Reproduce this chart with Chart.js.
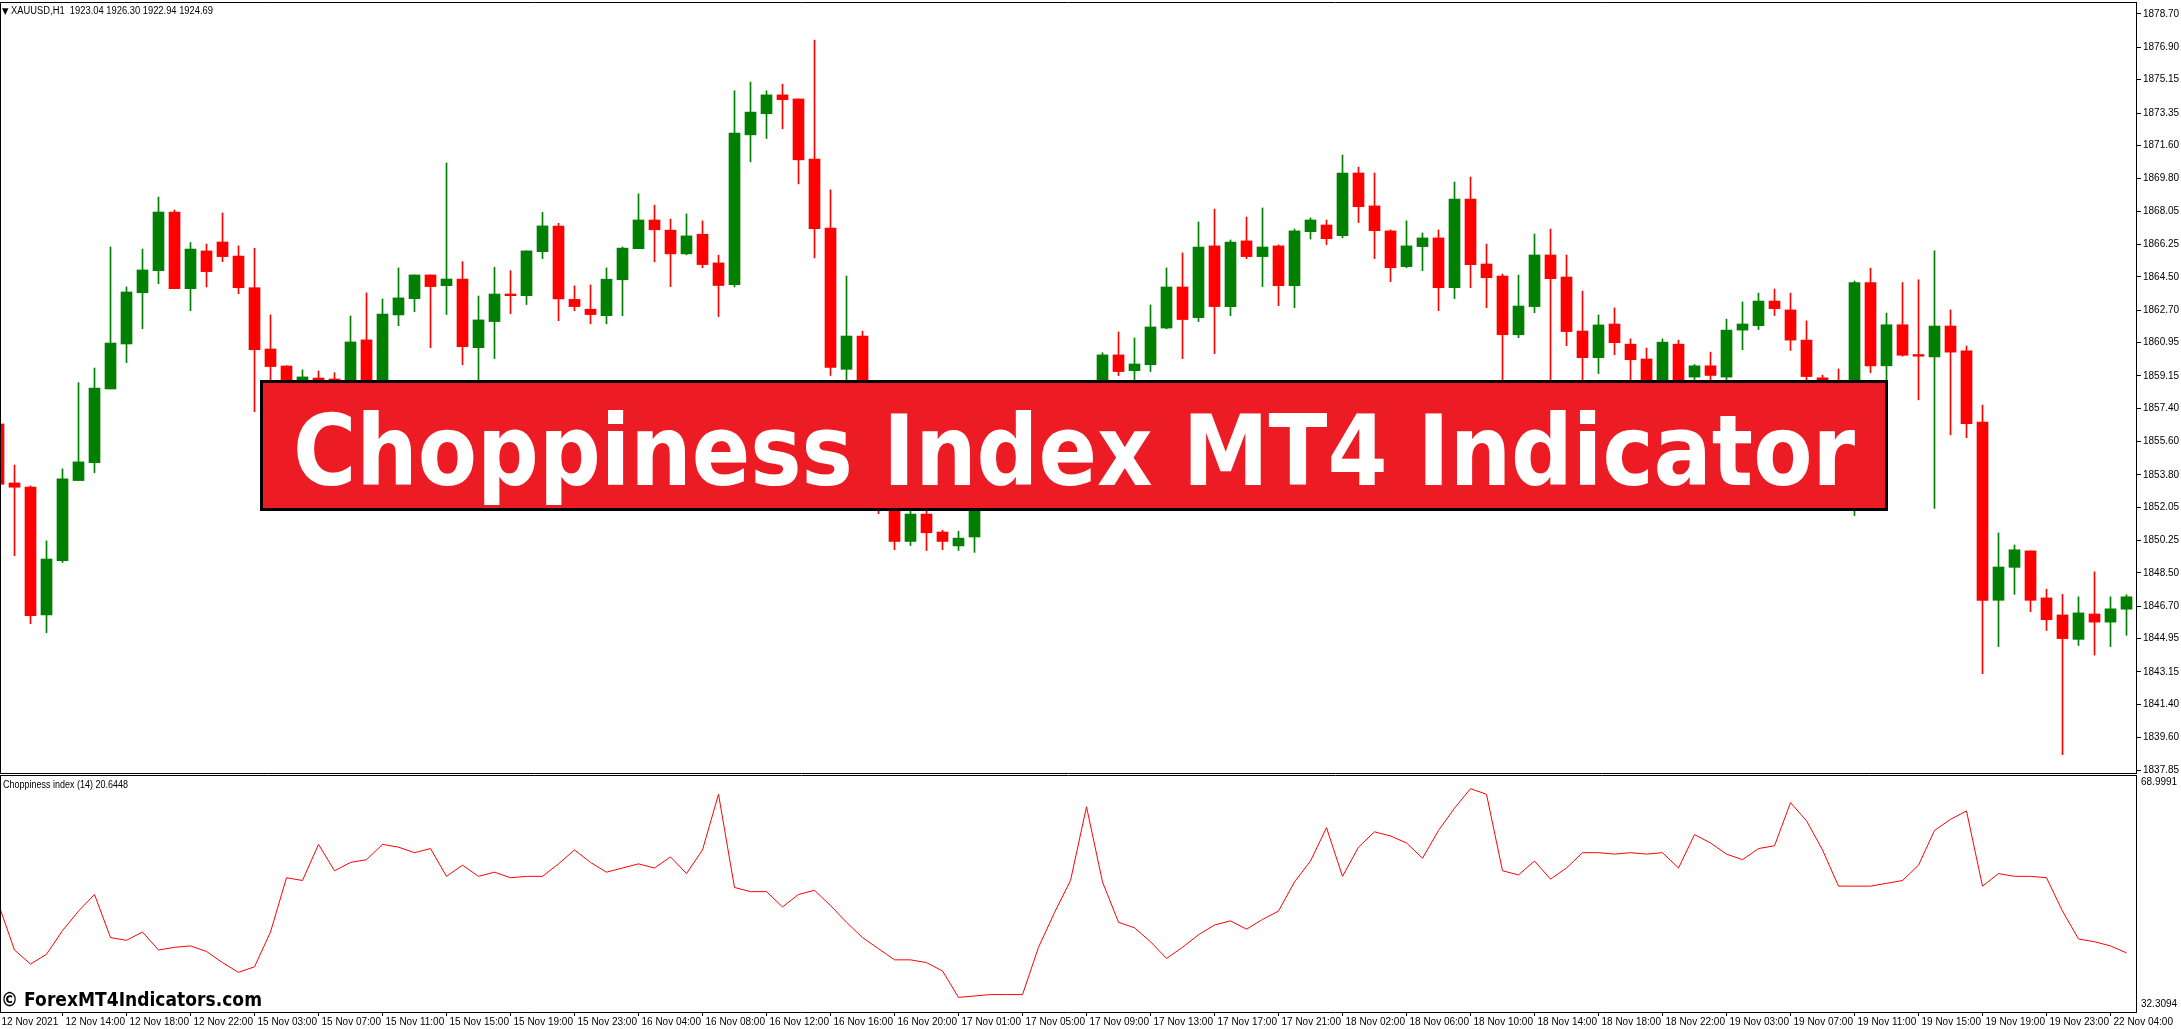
<!DOCTYPE html>
<html lang="en">
<head>
<meta charset="UTF-8">
<title>Choppiness Index MT4 Indicator</title>
<script src="https://cdn.jsdelivr.net/npm/chart.js"></script>
<style>
    body {
        margin: 0;
        padding: 0;
        background: #fff;
        width: 2181px;
        height: 1029px;
        overflow: hidden;
        position: relative;
        font-family: 'Liberation Sans', Arial, sans-serif;
    }
    canvas { position: absolute; left: 0; }
    #price-chart { top: 0; }
    #chop-chart { top: 774px; }
    .txt { position: absolute; white-space: pre; color: #000; transform-origin: 0 50%; z-index: 2; }
    #header { left: 2px; top: 4px; font-size: 10px; line-height: 14px; }
    #header .tri { font: 9px 'DejaVu Sans', sans-serif; }
    #chop-label { left: 3px; top: 778px; font-size: 10px; line-height: 14px; }
    #watermark { left: 1px; top: 987px; font: bold 20px 'DejaVu Sans', sans-serif; line-height: 24px; }
    #banner {
        position: absolute; left: 260px; top: 380px; width: 1628px; height: 131px;
        box-sizing: border-box; background: #ed1c24; border: 3px solid #000; z-index: 3;
    }
    #banner-text {
        position: absolute; left: 50%; top: 19px;
        color: #fff; white-space: pre;
        font: bold 98px 'DejaVu Sans', sans-serif; line-height: 98px;
        transform-origin: 50% 50%; transform: translateX(-50%);
    }
</style>
</head>
<body>
    <canvas id="price-chart" width="2181" height="776"></canvas>
    <canvas id="chop-chart" width="2181" height="255"></canvas>

    <div class="txt" id="header"><span class="tri">▼</span> XAUUSD,H1  1923.04 1926.30 1922.94 1924.69</div>
    <div class="txt" id="chop-label">Choppiness index (14) 20.6448</div>
    <div class="txt" id="watermark">© ForexMT4Indicators.com</div>
    <div id="banner"><span id="banner-text">Choppiness Index MT4 Indicator</span></div>

<script>
    // XAUUSD H1 candles, 12 Nov 2021 10:00 .. 22 Nov 05:00
    const opens = [1856.55, 1853.36, 1853.14, 1846.23, 1849.16, 1853.49, 1854.46, 1858.44, 1860.87, 1863.64,
        1864.83, 1868.00, 1863.86, 1865.90, 1866.38, 1865.62, 1863.91, 1860.60, 1859.68, 1858.30,
        1859.03, 1858.98, 1858.50, 1861.09, 1858.60, 1862.44, 1863.32, 1864.60, 1864.02, 1864.38,
        1860.67, 1862.08, 1863.57, 1863.48, 1865.86, 1867.24, 1863.28, 1862.75, 1862.40, 1864.34,
        1866.02, 1867.57, 1867.02, 1865.74, 1866.80, 1865.25, 1864.08, 1872.17, 1873.31, 1874.33,
        1874.11, 1870.86, 1867.13, 1859.50, 1861.30, 1853.00, 1852.60, 1850.20, 1851.68, 1850.71,
        1849.96, 1850.44, 1852.60, 1853.80, 1853.20, 1855.00, 1854.40, 1856.30, 1855.80, 1857.40,
        1860.28, 1859.43, 1859.75, 1861.73, 1863.95, 1862.29, 1866.17, 1862.89, 1866.44, 1865.59,
        1866.17, 1864.02, 1866.94, 1867.30, 1866.72, 1870.11, 1868.33, 1866.98, 1865.05, 1866.13,
        1866.60, 1863.91, 1868.70, 1865.19, 1864.54, 1861.37, 1862.89, 1865.68, 1864.49, 1861.57,
        1860.13, 1861.95, 1860.86, 1860.06, 1858.70, 1860.86, 1859.08, 1859.69, 1859.08, 1861.62,
        1861.86, 1863.19, 1862.71, 1861.08, 1859.04, 1858.40, 1857.50, 1864.19, 1859.69, 1861.91,
        1860.30, 1860.17, 1861.84, 1860.50, 1856.65, 1847.02, 1848.80, 1849.69, 1847.15, 1846.23,
        1844.91, 1846.28, 1845.84, 1846.54];
    const highs = [1856.90, 1854.33, 1853.20, 1850.23, 1854.12, 1858.78, 1859.57, 1866.11, 1863.95, 1866.00,
        1868.81, 1868.11, 1866.35, 1866.27, 1867.95, 1866.17, 1866.04, 1862.44, 1859.70, 1859.47,
        1859.41, 1859.32, 1862.38, 1863.63, 1863.30, 1864.98, 1864.60, 1864.60, 1870.65, 1865.32,
        1863.46, 1865.01, 1864.83, 1865.90, 1867.98, 1867.39, 1864.01, 1864.06, 1864.98, 1866.11,
        1868.98, 1868.37, 1867.62, 1867.90, 1867.52, 1865.67, 1874.55, 1875.02, 1874.55, 1874.91,
        1874.11, 1877.29, 1869.20, 1864.54, 1861.56, 1853.80, 1853.00, 1852.00, 1852.10, 1850.80,
        1850.75, 1852.90, 1854.30, 1854.60, 1855.60, 1855.90, 1856.90, 1857.60, 1858.20, 1860.40,
        1861.52, 1861.19, 1862.98, 1864.98, 1865.79, 1867.46, 1868.16, 1866.49, 1867.73, 1868.22,
        1866.22, 1867.08, 1867.68, 1867.57, 1871.08, 1870.43, 1870.11, 1867.03, 1867.52, 1866.87,
        1867.03, 1869.62, 1869.89, 1866.27, 1864.65, 1864.59, 1866.81, 1867.08, 1865.68, 1863.73,
        1862.44, 1862.82, 1861.15, 1860.65, 1861.15, 1861.08, 1859.76, 1860.43, 1862.21, 1863.14,
        1863.62, 1863.84, 1863.62, 1862.12, 1859.19, 1859.52, 1864.27, 1864.97, 1862.54, 1864.19,
        1864.34, 1865.90, 1862.71, 1860.76, 1857.57, 1850.66, 1850.01, 1849.69, 1847.62, 1847.34,
        1847.21, 1848.56, 1847.21, 1847.32];
    const lows = [1853.00, 1849.43, 1845.76, 1845.27, 1849.06, 1853.49, 1853.92, 1858.44, 1859.86, 1861.70,
        1864.13, 1863.86, 1862.67, 1863.95, 1865.32, 1863.59, 1857.21, 1858.70, 1857.60, 1857.90,
        1858.00, 1857.80, 1858.20, 1857.90, 1858.30, 1861.86, 1862.62, 1860.67, 1862.46, 1859.75,
        1858.30, 1860.08, 1862.51, 1863.00, 1865.48, 1862.13, 1862.67, 1861.96, 1861.96, 1862.40,
        1866.02, 1865.31, 1863.97, 1865.69, 1864.99, 1862.35, 1863.95, 1870.71, 1871.97, 1872.50,
        1869.52, 1865.52, 1859.17, 1858.90, 1852.30, 1851.70, 1849.76, 1849.98, 1849.71, 1849.76,
        1849.71, 1849.61, 1852.20, 1852.80, 1852.90, 1853.90, 1854.00, 1855.20, 1855.40, 1857.00,
        1859.16, 1858.80, 1859.38, 1861.68, 1860.08, 1862.08, 1860.35, 1862.40, 1865.48, 1863.97,
        1862.94, 1862.83, 1866.54, 1866.24, 1866.61, 1867.43, 1865.48, 1864.24, 1864.99, 1864.83,
        1862.67, 1863.32, 1863.91, 1862.83, 1857.60, 1861.21, 1862.56, 1858.00, 1860.78, 1858.40,
        1859.27, 1860.29, 1858.50, 1858.20, 1858.40, 1858.30, 1858.80, 1858.70, 1858.80, 1860.56,
        1861.65, 1862.41, 1860.52, 1858.60, 1857.90, 1856.80, 1851.60, 1859.32, 1858.30, 1860.21,
        1857.85, 1851.99, 1855.96, 1855.81, 1843.06, 1844.52, 1847.34, 1846.41, 1845.39, 1838.68,
        1844.58, 1844.06, 1844.52, 1845.13];
    const closes = [1853.29, 1853.13, 1846.19, 1849.25, 1853.58, 1854.50, 1858.49, 1860.92, 1863.68, 1864.87,
        1868.00, 1863.86, 1866.00, 1864.78, 1865.59, 1863.91, 1860.56, 1859.65, 1858.20, 1859.09,
        1858.40, 1858.50, 1860.98, 1858.60, 1862.49, 1863.36, 1864.60, 1863.97, 1864.38, 1860.73,
        1862.17, 1863.57, 1863.48, 1865.90, 1867.25, 1863.31, 1862.89, 1862.46, 1864.37, 1866.05,
        1867.57, 1867.04, 1865.74, 1866.71, 1865.16, 1864.03, 1872.26, 1873.40, 1874.33, 1874.07,
        1870.82, 1867.10, 1859.61, 1861.30, 1853.00, 1852.60, 1850.20, 1851.68, 1850.67, 1850.20,
        1850.38, 1852.60, 1853.80, 1853.20, 1855.00, 1854.40, 1856.30, 1855.80, 1857.40, 1860.28,
        1859.38, 1859.79, 1861.79, 1863.95, 1862.19, 1866.11, 1862.89, 1866.38, 1865.59, 1866.11,
        1864.02, 1866.98, 1867.57, 1866.56, 1870.11, 1868.29, 1866.99, 1864.99, 1866.17, 1866.60,
        1863.91, 1868.70, 1865.16, 1864.45, 1861.37, 1862.92, 1865.68, 1864.40, 1861.54, 1860.13,
        1861.90, 1860.94, 1860.02, 1858.70, 1860.97, 1858.70, 1859.69, 1859.17, 1861.62, 1861.95,
        1863.19, 1862.78, 1861.08, 1859.11, 1858.40, 1857.50, 1864.19, 1859.69, 1861.91, 1860.26,
        1860.21, 1861.84, 1860.43, 1856.57, 1847.02, 1848.82, 1849.75, 1847.02, 1845.97, 1844.95,
        1846.34, 1845.84, 1846.56, 1847.21];

    // Choppiness index (14), one value per candle
    const chop = [49.14, 41.98, 39.80, 41.32, 45.02, 48.06, 50.66, 43.93, 43.50, 44.80,
        41.98, 42.41, 42.63, 41.76, 40.02, 38.50, 39.37, 44.80, 53.27, 52.84,
        58.48, 54.36, 55.66, 56.09, 58.48, 58.05, 57.18, 57.83, 53.49, 55.23,
        53.49, 54.14, 53.27, 53.49, 53.49, 55.44, 57.61, 55.66, 54.14, 54.79,
        55.44, 54.79, 56.53, 53.92, 57.61, 66.30, 51.75, 51.10, 51.10, 48.71,
        50.66, 51.31, 48.93, 46.32, 43.93, 42.19, 40.45, 40.45, 40.02, 38.72,
        34.59, 34.81, 35.03, 35.03, 35.03, 42.41, 47.84, 52.84, 64.35, 52.62,
        46.32, 45.45, 43.28, 40.67, 42.41, 44.37, 45.89, 46.54, 45.24, 46.76,
        48.06, 52.62, 55.88, 61.09, 53.49, 58.05, 60.44, 59.79, 58.70, 56.31,
        60.65, 64.13, 67.17, 66.30, 54.36, 53.71, 55.88, 53.05, 54.79, 57.18,
        57.18, 56.96, 57.18, 56.96, 57.18, 54.79, 60.00, 58.70, 56.96, 56.09,
        57.83, 58.26, 65.00, 62.17, 57.61, 51.96, 51.96, 51.96, 52.40, 52.84,
        55.23, 60.65, 62.39, 63.69, 51.96, 53.92, 53.49, 53.49, 53.27, 48.06,
        43.71, 43.28, 42.63, 41.54];

    // time labels, one every 4 bars
    const timeLabels = ['12 Nov 2021', '12 Nov 14:00', '12 Nov 18:00', '12 Nov 22:00', '15 Nov 03:00',
        '15 Nov 07:00', '15 Nov 11:00', '15 Nov 15:00', '15 Nov 19:00', '15 Nov 23:00', '16 Nov 04:00',
        '16 Nov 08:00', '16 Nov 12:00', '16 Nov 16:00', '16 Nov 20:00', '17 Nov 01:00', '17 Nov 05:00',
        '17 Nov 09:00', '17 Nov 13:00', '17 Nov 17:00', '17 Nov 21:00', '18 Nov 02:00', '18 Nov 06:00',
        '18 Nov 10:00', '18 Nov 14:00', '18 Nov 18:00', '18 Nov 22:00', '19 Nov 03:00', '19 Nov 07:00',
        '19 Nov 11:00', '19 Nov 15:00', '19 Nov 19:00', '19 Nov 23:00', '22 Nov 04:00'];

    const priceTicks = [1878.70, 1876.90, 1875.15, 1873.35, 1871.60, 1869.80, 1868.05, 1866.25,
        1864.50, 1862.70, 1860.95, 1859.15, 1857.40, 1855.60, 1853.80, 1852.05, 1850.25, 1848.50,
        1846.70, 1844.95, 1843.15, 1841.40, 1839.60, 1837.85];
    const chopLabels = ['68.9991', '32.3094'];

    Chart.defaults.font.family = "'Liberation Sans', Arial, sans-serif";
    Chart.defaults.font.size = 10;
    Chart.defaults.color = '#000';

    const idx = opens.map((_, i) => i);
    const colors = idx.map(i => closes[i] >= opens[i] ? '#008000' : '#ff0000');

    // 16px per bar, plot area 2136px wide
    const xMin = 0.09375;
    const xMax = xMin + 2136 / 16;

    // black frame around the plot area, MT4 style
    const frame = {
        id: 'frame',
        afterDraw(chart) {
            const { ctx, chartArea: a } = chart;
            ctx.save();
            ctx.strokeStyle = '#000';
            ctx.lineWidth = 1;
            ctx.beginPath();
            ctx.moveTo(a.left, a.top + 0.5); ctx.lineTo(a.right + 1, a.top + 0.5);
            ctx.moveTo(a.left, a.bottom + 0.5); ctx.lineTo(a.right + 1, a.bottom + 0.5);
            ctx.moveTo(a.left + 0.5, a.top); ctx.lineTo(a.left + 0.5, a.bottom + 1);
            ctx.moveTo(a.right + 0.5, a.top); ctx.lineTo(a.right + 0.5, a.bottom + 1);
            ctx.stroke();
            ctx.restore();
        }
    };

    const common = {
        responsive: false,
        animation: false,
        devicePixelRatio: 1,
        plugins: { legend: { display: false }, tooltip: { enabled: false } }
    };

    // price chart: wick + body as floating bars
    new Chart(document.getElementById('price-chart'), {
        type: 'bar',
        data: {
            datasets: [
                {
                    label: 'wick',
                    data: idx.map(i => ({ x: i, y: [lows[i], highs[i]] })),
                    backgroundColor: colors,
                    barThickness: 1,
                    grouped: false,
                    order: 2
                },
                {
                    label: 'body',
                    data: idx.map(i => ({ x: i, y: [opens[i], closes[i]] })),
                    backgroundColor: colors,
                    barThickness: 11,
                    minBarLength: 1,
                    grouped: false,
                    order: 1
                }
            ]
        },
        options: {
            ...common,
            layout: { padding: { top: 2, bottom: 3, left: 0, right: 0 } },
            scales: {
                x: { type: 'linear', min: xMin, max: xMax, offset: false, display: false },
                y: {
                    position: 'right',
                    min: 1837.689,
                    max: 1879.348,
                    afterBuildTicks: s => { s.ticks = priceTicks.map(v => ({ value: v })); },
                    afterFit: s => { s.width = 45; s.paddingTop = 0; s.paddingBottom = 0; },
                    grid: { drawOnChartArea: false, drawTicks: true, tickLength: 5, color: '#000' },
                    border: { display: false },
                    ticks: { padding: 2, callback: v => v.toFixed(2) }
                }
            }
        },
        plugins: [frame]
    });

    // choppiness index panel
    new Chart(document.getElementById('chop-chart'), {
        type: 'line',
        data: {
            datasets: [{
                data: idx.map(i => ({ x: i, y: chop[i] })),
                borderColor: '#ff0000',
                borderWidth: 1,
                pointRadius: 0,
                tension: 0
            }]
        },
        options: {
            ...common,
            layout: { padding: { top: 1, bottom: 0, left: 0, right: 0 } },
            scales: {
                x: {
                    type: 'linear',
                    min: xMin,
                    max: xMax,
                    offset: false,
                    afterBuildTicks: s => { s.ticks = timeLabels.map((_, k) => ({ value: k * 4 })); },
                    afterFit: s => { s.height = 17; s.paddingLeft = 0; s.paddingRight = 0; },
                    grid: { drawOnChartArea: false, drawTicks: true, tickLength: 4, color: '#000' },
                    border: { display: false },
                    ticks: {
                        align: 'start', labelOffset: 3, padding: 0,
                        maxRotation: 0, minRotation: 0, autoSkip: false,
                        callback: (v, k) => timeLabels[k]
                    }
                },
                y: {
                    position: 'right',
                    min: 32.3094,
                    max: 69.3114,
                    afterBuildTicks: s => { s.ticks = [{ value: 68.2185 }, { value: 33.5584 }]; },
                    afterFit: s => { s.width = 45; s.paddingTop = 0; s.paddingBottom = 0; },
                    grid: { drawOnChartArea: false, drawTicks: false },
                    border: { display: false },
                    ticks: { padding: 5, callback: (v, k) => chopLabels[k] }
                }
            }
        },
        plugins: [frame]
    });

    // squeeze overlay texts to the widths seen on the screenshot
    function fitWidth(id, target, pre) {
        const el = document.getElementById(id);
        el.style.transform = pre || 'none';
        const w = el.getBoundingClientRect().width;
        if (w > 0) el.style.transform = (pre ? pre + ' ' : '') + 'scaleX(' + (target / w) + ')';
    }
    function fitAll() {
        fitWidth('header', 211);
        fitWidth('chop-label', 125);
        fitWidth('watermark', 261);
        fitWidth('banner-text', 1562, 'translateX(-50%)');
    }
    fitAll();
    if (document.fonts) document.fonts.ready.then(fitAll);
</script>
</body>
</html>
